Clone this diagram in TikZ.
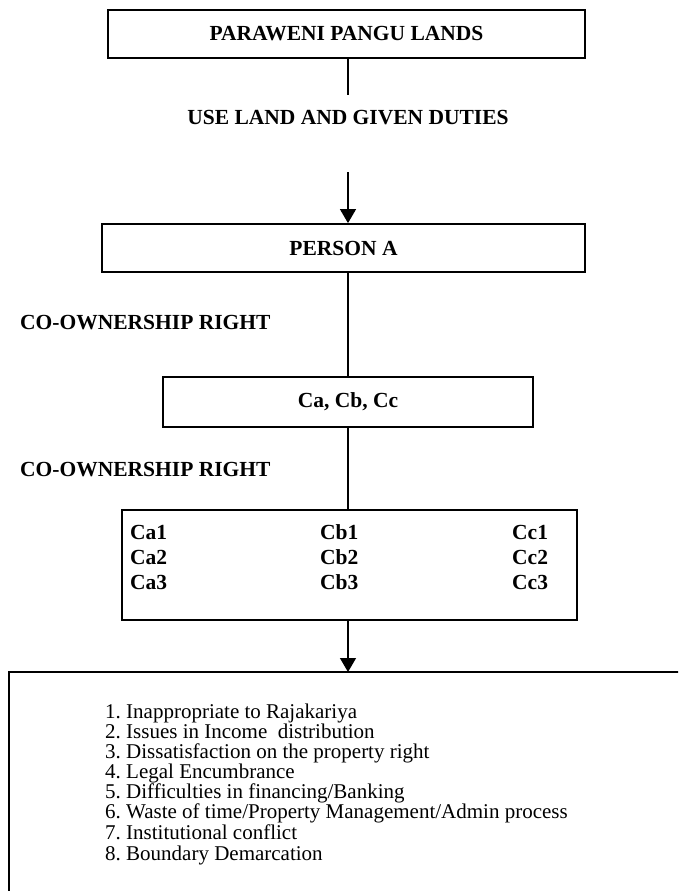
\documentclass[tikz,border=0pt]{standalone}
\usepackage{fontspec}
\setmainfont{Liberation Serif}
\usetikzlibrary{arrows.meta}

\tikzset{
  boxline/.style={draw=black, line width=1.8pt},
  flowbox/.style={boxline, rectangle, inner sep=0pt, font=\bfseries\fontsize{21.5}{25}\selectfont},
  tag/.style={inner sep=0pt, font=\bfseries\fontsize{21.5}{25}\selectfont},
  link/.style={draw=black, line width=1.3pt},
  arrowlink/.style={link, -{Triangle[length=14pt,width=16pt]}},
  itemnum/.style={anchor=base west, inner sep=0pt, font=\fontsize{21}{24}\selectfont},
  itemtext/.style={anchor=base west, inner sep=0pt, font=\fontsize{21}{24}\selectfont},
  cell/.style={anchor=base west, inner sep=0pt, font=\bfseries\fontsize{21.5}{25}\selectfont}
}

\begin{document}
\begin{tikzpicture}[x=1pt, y=-1pt]
  \useasboundingbox (0,0) rectangle (678,891);
  \fill[white] (0,0) rectangle (678,891);

  % vertical axis of the flow
  \coordinate (axis) at (348,0);

  % boxes and labels
  \node[flowbox, minimum width=477pt, minimum height=48pt] (top) at (346.5,34) {PARAWENI PANGU LANDS};
  \node[tag] (use) at (348,118) {USE LAND AND GIVEN DUTIES};
  \node[flowbox, minimum width=483pt, minimum height=48pt] (person) at (343.5,248) {PERSON A};
  \node[tag, anchor=west] (co1) at (20,323) {CO-OWNERSHIP RIGHT};
  \node[flowbox, minimum width=370pt, minimum height=50pt] (ca) at (348,402) {Ca, Cb, Cc};
  \node[tag, anchor=west] (co2) at (20,470) {CO-OWNERSHIP RIGHT};
  \node[boxline, rectangle, inner sep=0pt, minimum width=455pt, minimum height=110pt] (grid) at (349.5,565) {};

  % grid contents, one node per cell on shared baselines
  \foreach \r/\y in {1/539, 2/564, 3/589} {
    \node[cell] (Ca\r) at (130,\y) {Ca\r};
    \node[cell] (Cb\r) at (320,\y) {Cb\r};
    \node[cell] (Cc\r) at (512,\y) {Cc\r};
  }

  % open box of consequences, running off the page
  \node[rectangle, inner sep=0pt, anchor=north west, minimum width=675pt, minimum height=224pt] (list) at (9,672) {};
  \begin{scope}
    \clip (0,0) rectangle (678,891);
    \draw[boxline] (list.north east) -- (list.north west) -- (list.south west);
  \end{scope}

  % list items
  \foreach \n/\y/\t in {
      1/718/{Inappropriate to Rajakariya},
      2/738/{Issues in Income\ \ distribution},
      3/758/{Dissatisfaction on the property right},
      4/778/{Legal Encumbrance},
      5/798/{Difficulties in financing/Banking},
      6/818/{Waste of time/Property Management/Admin process},
      7/839/{Institutional conflict},
      8/860/{Boundary Demarcation}} {
    \node[itemnum] (num\n) at (105,\y) {\n.};
    \node[itemtext] (item\n) at (126,\y) {\t};
  }

  % connectors
  \coordinate (useTop) at (348,95);
  \coordinate (useBottom) at (348,172);
  \draw[link] (top.south -| axis) -- (useTop);
  \draw[arrowlink] (useBottom) -- (person.north -| axis);
  \draw[link] (person.south -| axis) -- (ca.north -| axis);
  \draw[link] (ca.south -| axis) -- (grid.north -| axis);
  \draw[arrowlink] (grid.south -| axis) -- (list.north -| axis);
\end{tikzpicture}
\end{document}
